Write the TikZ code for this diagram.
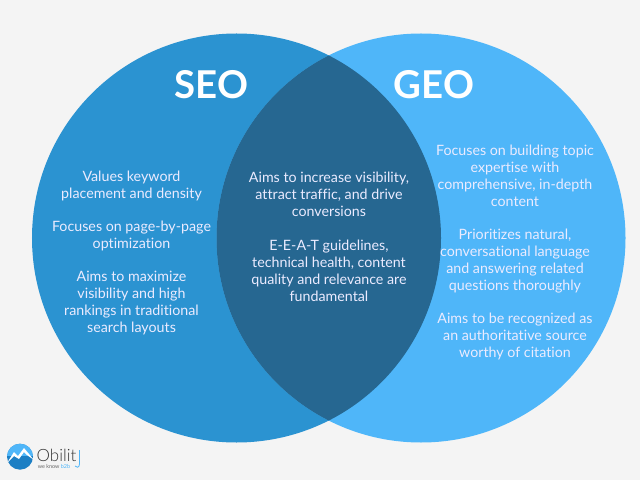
\documentclass[tikz,border=0pt]{standalone}
\usepackage{fontspec}
\setmainfont{Lato}[Ligatures=CommonOff]
\newfontfamily\logofont{Lato Light}
\usepackage{tikz}
\definecolor{bgcol}{HTML}{F4F4F4}
\definecolor{seocol}{HTML}{2B93D1}
\definecolor{geocol}{HTML}{4FB6F9}
\definecolor{lenscol}{HTML}{266791}
\definecolor{logocol}{HTML}{1C7FC4}
\tikzset{x=1bp,y=-1bp,
  title node/.style={text=white,font=\fontsize{38.5}{44}\selectfont\bfseries,inner sep=0pt},
  body node/.style={text=white!92!blue,font=\fontsize{14.3}{17.05}\selectfont,align=center,inner sep=0pt},
}
\begin{document}
\begin{tikzpicture}
        \useasboundingbox[fill=bgcol] (0,0) rectangle (640,480);
        \fill[seocol] (236.5,238) circle (204.5bp);
        \fill[geocol] (421,238) circle (204.5bp);
        \begin{scope}
            \clip (236.5,238) circle (204.5bp);
            \fill[lenscol] (421,238) circle (204.5bp);
        \end{scope}

        \node[title node] (seo) at (211.5,84.5) {SEO};
        \node[title node] (geo) at (434,84.5) {GEO};

        \node[body node] (s1) at (131.5,185.5) {Values keyword\\placement and density};
        \node[body node] (s2) at (131.5,235.5) {Focuses on page-by-page\\optimization};
        \node[body node] (s3) at (131.5,303.5) {Aims to maximize\\visibility and high\\rankings in traditional\\search layouts};

        \node[body node] (m1) at (329,194.5) {Aims to increase visibility,\\attract traffic, and drive\\conversions};
        \node[body node] (m2) at (329,271) {E-E-A-T guidelines,\\technical health, content\\quality and relevance are\\fundamental};

        \node[body node] (g1) at (515,175.5) {Focuses on building topic\\expertise with\\comprehensive, in-depth\\content};
        \node[body node] (g2) at (515,261) {Prioritizes natural,\\conversational language\\and answering related\\questions thoroughly};
        \node[body node] (g3) at (515,336) {Aims to be recognized as\\an authoritative source\\worthy of citation};

        % logo
        \fill[logocol] (20,456.7) circle (13bp);
        \begin{scope}
            \clip (20,456.7) circle (13bp);
            \fill[geocol] (6,443) rectangle (34,456);
            \fill[white] (7,463) -- (14,452) -- (18,456) -- (24,448) -- (34,460) -- (27,455) -- (24,452) -- (19,459) -- (14,456) -- cycle;
        \end{scope}
        \node[text=black!80,font=\fontsize{17}{17}\selectfont\logofont,inner sep=0pt] (logo) at (56.5,455) {Obilit};
        \node[text=black!60,font=\fontsize{5.5}{5.5}\selectfont,inner sep=0pt] (slogan) at (54,466) {we know \textcolor{geocol}{b2b}};
        \draw[geocol,line width=0.8pt] (79.5,450) -- (79.5,464) .. controls (79.5,468) and (76,468) .. (75,466);
\end{tikzpicture}
\end{document}
